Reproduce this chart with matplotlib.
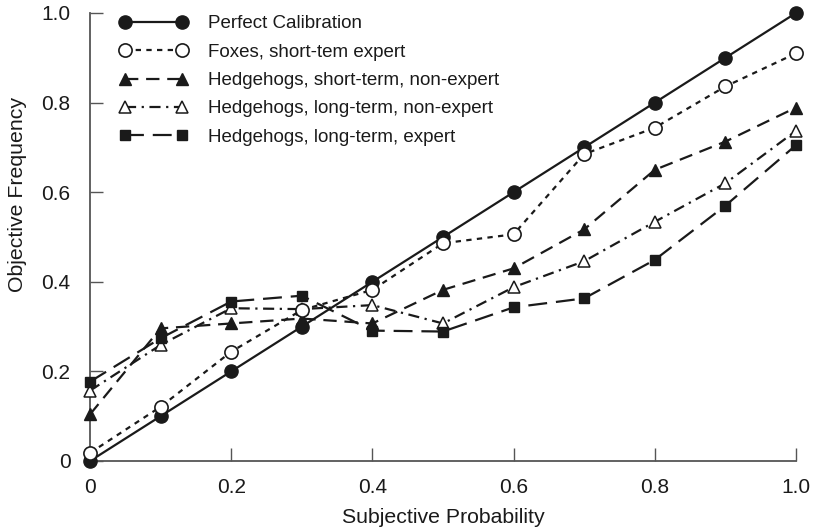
import numpy as np
import matplotlib
matplotlib.use('Agg')
import matplotlib.pyplot as plt

plt.rcParams['font.family'] = ['Liberation Sans', 'DejaVu Sans']

# subjective probability bins
prob = [0, 0.1, 0.2, 0.3, 0.4, 0.5, 0.6, 0.7, 0.8, 0.9, 1.0]

perfect = [0, 0.1, 0.2, 0.3, 0.4, 0.5, 0.6, 0.7, 0.8, 0.9, 1.0]
foxes_st_exp = [0.018, 0.121, 0.244, 0.337, 0.382, 0.486, 0.506, 0.685, 0.744, 0.836, 0.910]
hedge_st_nonexp = [0.104, 0.296, 0.307, 0.318, 0.307, 0.382, 0.430, 0.517, 0.650, 0.713, 0.789]
hedge_lt_nonexp = [0.157, 0.259, 0.341, 0.339, 0.348, 0.307, 0.388, 0.446, 0.534, 0.620, 0.737]
hedge_lt_exp = [0.177, 0.274, 0.356, 0.369, 0.291, 0.289, 0.343, 0.363, 0.449, 0.570, 0.705]

labels = ['Perfect Calibration',
          'Foxes, short-tem expert',
          'Hedgehogs, short-term, non-expert',
          'Hedgehogs, long-term, non-expert',
          'Hedgehogs, long-term, expert']

ink = '#1a1a1a'

fig = plt.figure(figsize=(8.16, 5.30), dpi=100)
ax = fig.add_axes([90 / 816, 69 / 530, 706 / 816, 448 / 530])

ax.plot(prob, perfect, color=ink, lw=1.6, ls='-', marker='o', ms=9.5,
        mfc=ink, mec=ink, clip_on=False, zorder=5, label=labels[0])
ax.plot(prob, foxes_st_exp, color=ink, lw=1.6, ls=(0, (2.4, 2.4)), marker='o', ms=9.5,
        mfc='white', mec=ink, mew=1.2, clip_on=False, zorder=6, label=labels[1])
ax.plot(prob, hedge_st_nonexp, color=ink, lw=1.6, ls=(0, (6, 3.5)), marker='^', ms=9,
        mfc=ink, mec=ink, clip_on=False, zorder=4, label=labels[2])
ax.plot(prob, hedge_lt_nonexp, color=ink, lw=1.6, ls=(0, (5, 2.5, 1, 2.5)), marker='^', ms=9,
        mfc='white', mec=ink, mew=1.1, clip_on=False, zorder=4, label=labels[3])
ax.plot(prob, hedge_lt_exp, color=ink, lw=1.6, ls=(0, (8.5, 4)), marker='s', ms=6.5,
        mfc=ink, mec=ink, clip_on=False, zorder=4, label=labels[4])

ax.set_xlim(0, 1.0)
ax.set_ylim(0, 1.0)
ax.set_xticks([0, 0.2, 0.4, 0.6, 0.8, 1.0])
ax.set_xticklabels(['0', '0.2', '0.4', '0.6', '0.8', '1.0'])
ax.set_yticks([0, 0.2, 0.4, 0.6, 0.8, 1.0])
ax.set_yticklabels(['0', '0.2', '0.4', '0.6', '0.8', '1.0'])
ax.tick_params(direction='in', length=9.5, width=1, color='#555555',
               labelsize=15, labelcolor=ink)
ax.tick_params(axis='x', pad=12)
ax.tick_params(axis='y', pad=14)

for side in ['top', 'right']:
    ax.spines[side].set_visible(False)
for side in ['left', 'bottom']:
    ax.spines[side].set_color('#555555')
    ax.spines[side].set_linewidth(1.3)

ax.set_xlabel('Subjective Probability', fontsize=15.3, color=ink)
ax.set_ylabel('Objective Frequency', fontsize=15.3, color=ink)
ax.xaxis.set_label_coords(0.5, -0.105)
ax.yaxis.set_label_coords(-0.0893, 0.594)

leg = ax.legend(loc='upper left', bbox_to_anchor=(0.0416, 0.995), frameon=False,
                fontsize=13.5, numpoints=2, handlelength=3.64, handletextpad=1.1,
                labelspacing=0.6, borderpad=0, borderaxespad=0)
for t in leg.get_texts():
    t.set_color(ink)

fig.savefig('out.png', dpi=100)
